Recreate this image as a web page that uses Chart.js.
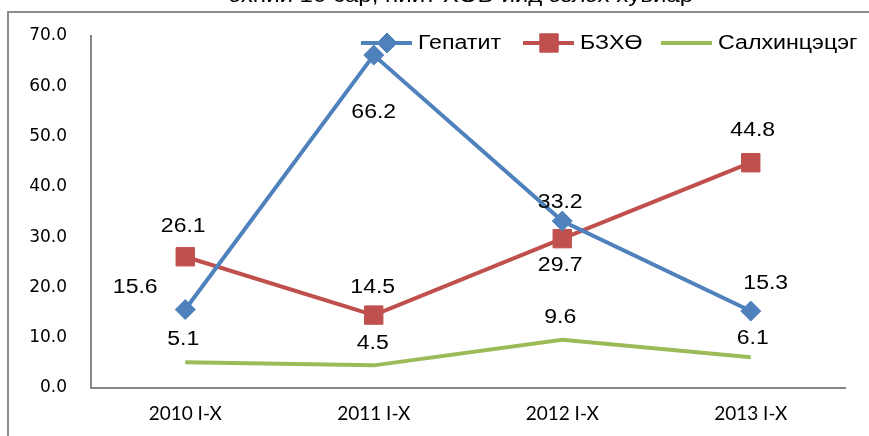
<!DOCTYPE html>
<html>
<head>
<meta charset="utf-8">
<script src="https://cdn.jsdelivr.net/npm/chart.js@4"></script>
<style>
  body { margin: 0; background: #fff; }
  #wrap { width: 869px; height: 436px; position: relative; }
</style>
</head>
<body>
<div id="wrap"><canvas id="grafica" width="869" height="436"></canvas></div>
<script>
const ангилал = ['2010 I-X', '2011 I-X', '2012 I-X', '2013 I-X'];
const гепатит = [15.6, 66.2, 33.2, 15.3];
const бзхө = [26.1, 14.5, 29.7, 44.8];
const салхинцэцэг = [5.1, 4.5, 9.6, 6.1];
const нэрс = ['Гепатит', 'БЗХӨ', 'Салхинцэцэг'];
const гарчиг = 'эхний 10 сар, нийт ХӨВ-ийд эзлэх хувиар';

// label offsets from each point, in px
const шошгоЗай = [
    [[-50, -22], [0, 57], [-2, -19], [15, -28]],
    [[-2, -30], [-1, -28], [-2, 27], [2, -32]],
    [[-2, -23], [-1, -22], [-2, -22], [2, -19]]
];

const өнгө = ['#4F81BD', '#C0504D', '#9BBB59'];

// text slightly stretched like the original
function сунгасанТекст(ctx, text, x, y, sx) {
    ctx.save();
    ctx.translate(x, y);
    ctx.scale(sx, 1);
    ctx.fillText(text, 0, 0);
    ctx.restore();
}

const хүрээ = {
    id: 'huree',
    beforeDraw(chart) {
        const ctx = chart.ctx;
        ctx.save();
        ctx.fillStyle = '#fff';
        ctx.fillRect(0, 0, chart.width, chart.height);
        ctx.strokeStyle = '#8c8c8c';
        ctx.lineWidth = 2;
        ctx.beginPath();
        ctx.moveTo(8, 436);
        ctx.lineTo(8, 12);
        ctx.lineTo(869, 12);
        ctx.stroke();
        ctx.fillStyle = '#000';
        ctx.font = '20px "Liberation Sans", Arial';
        ctx.textAlign = 'center';
        ctx.textBaseline = 'alphabetic';
        сунгасанТекст(ctx, гарчиг, 461, 2, 1.2);
        ctx.restore();
    }
};

const шошго = {
    id: 'shoshgo',
    afterDatasetsDraw(chart) {
        const ctx = chart.ctx;
        ctx.save();
        ctx.fillStyle = '#000';
        ctx.font = '20px "Liberation Sans", Arial';
        ctx.textAlign = 'center';
        ctx.textBaseline = 'middle';
        chart.data.datasets.forEach((ds, i) => {
            chart.getDatasetMeta(i).data.forEach((pt, j) => {
                const [dx, dy] = шошгоЗай[i][j];
                сунгасанТекст(ctx, ds.data[j].toFixed(1), pt.x + dx, pt.y + dy, 1.15);
            });
        });
        ctx.restore();
    }
};

const тайлбар = {
    id: 'tailbar',
    afterDraw(chart) {
        const ctx = chart.ctx;
        const y = 43;
        const items = [
            { x: 361, style: 'rectRot', r: 10 },
            { x: 523, style: 'rect', r: 13 },
            { x: 661, style: null }
        ];
        ctx.save();
        ctx.font = '20px "Liberation Sans", Arial';
        ctx.textBaseline = 'middle';
        ctx.textAlign = 'left';
        items.forEach((it, i) => {
            ctx.strokeStyle = өнгө[i];
            ctx.fillStyle = өнгө[i];
            ctx.lineWidth = 4;
            ctx.beginPath();
            ctx.moveTo(it.x, y);
            ctx.lineTo(it.x + 51, y);
            ctx.stroke();
            if (it.style) {
                ctx.lineWidth = 1;
                Chart.helpers.drawPoint(ctx, {
                    pointStyle: it.style, radius: it.r, borderWidth: 1,
                    rotation: 0
                }, it.x + 26, y);
            }
            ctx.fillStyle = '#000';
            сунгасанТекст(ctx, нэрс[i], it.x + 57, y, 1.16);
        });
        ctx.restore();
    }
};

function багц(нэр, өгөгдөл, i, маркер, радиус) {
    return {
        label: нэр,
        data: өгөгдөл,
        borderColor: өнгө[i],
        backgroundColor: өнгө[i],
        borderWidth: 4,
        pointStyle: маркер || false,
        pointRadius: маркер ? радиус : 0,
        pointBorderWidth: 1,
        pointBorderColor: өнгө[i],
        pointBackgroundColor: өнгө[i],
        tension: 0
    };
}

new Chart(document.getElementById('grafica'), {
    type: 'line',
    data: {
        labels: ангилал,
        datasets: [
            багц(нэрс[0], гепатит, 0, 'rectRot', 10),
            багц(нэрс[1], бзхө, 1, 'rect', 13),
            багц(нэрс[2], салхинцэцэг, 2, null, 0)
        ]
    },
    options: {
        responsive: false,
        animation: false,
        layout: { padding: { top: 36, right: 24, bottom: 0, left: 0 } },
        plugins: {
            legend: { display: false },
            tooltip: { enabled: false }
        },
        scales: {
            x: {
                offset: true,
                grid: { display: false, drawTicks: false },
                border: { color: '#868686', width: 2 },
                ticks: {
                    color: '#000',
                    font: { family: 'Lato', size: 19 },
                    padding: 14,
                    maxRotation: 0
                },
                afterFit(s) { s.height = 48; }
            },
            y: {
                min: 0,
                max: 70,
                grid: { display: false, drawTicks: false },
                border: { color: '#868686', width: 2 },
                ticks: {
                    stepSize: 10,
                    color: '#000',
                    font: { family: '"DejaVu Sans"', size: 17 },
                    padding: 24,
                    callback: v => v.toFixed(1)
                },
                afterFit(s) { s.width = 91; }
            }
        }
    },
    plugins: [хүрээ, шошго, тайлбар]
});
</script>
</body>
</html>
